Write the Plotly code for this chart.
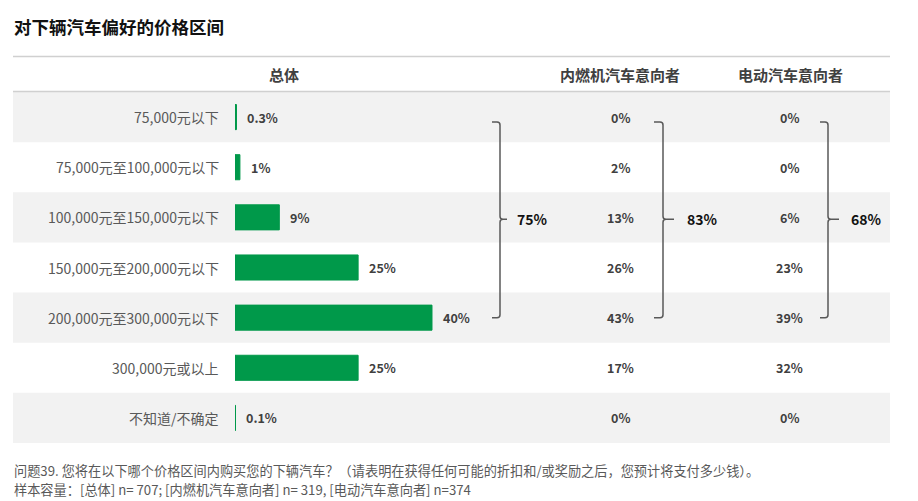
import plotly.graph_objects as go

W, H = 918, 501

categories = ["75,000元以下", "75,000元至100,000元以下", "100,000元至150,000元以下",
              "150,000元至200,000元以下", "200,000元至300,000元以下", "300,000元或以上", "不知道/不确定"]
overall = [0.3, 1, 9, 25, 40, 25, 0.1]
ice = [0, 2, 13, 26, 43, 17, 0]
ev = [0, 0, 6, 23, 39, 32, 0]
group_labels = ["总体", "内燃机汽车意向者", "电动汽车意向者"]
bracket_totals = [75, 83, 68]   # share of 100,000–300,000 range
title = "对下辆汽车偏好的价格区间"
note1 = "问题39. 您将在以下哪个价格区间内购买您的下辆汽车？（请表明在获得任何可能的折扣和/或奖励之后，您预计将支付多少钱）。"
note2 = "样本容量：[总体] n= 707; [内燃机汽车意向者] n= 319, [电动汽车意向者] n=374"

FONT = "Noto Sans CJK SC"
GREEN = "#00994A"
DARK = "#404040"
GRAY = "#595959"


def px(x):
    return x / W


def py(y):
    return 1 - y / H


rows = list(range(len(categories)))
fig = go.Figure()
fig.add_trace(go.Bar(
    y=rows, x=overall, orientation="h", width=0.5,
    marker=dict(color=GREEN, line=dict(width=1, color=GREEN)), hoverinfo="skip", showlegend=False,
))

fig.update_layout(
    width=W, height=H, autosize=False,
    margin=dict(l=0, r=0, t=0, b=0),
    paper_bgcolor="white", plot_bgcolor="rgba(0,0,0,0)",
    font=dict(family=FONT, color=DARK),
    xaxis=dict(domain=[px(235), px(890)], range=[0, 133], visible=False, fixedrange=True),
    yaxis=dict(domain=[py(443), py(92)], range=[6.5, -0.5], visible=False, fixedrange=True),
    bargap=0,
)

shapes = []
# alternating row backgrounds
for i in rows:
    if i % 2 == 0:
        shapes.append(dict(type="rect", xref="paper", yref="y", x0=px(13), x1=px(890),
                           y0=i - 0.5, y1=i + 0.5, fillcolor="#F2F2F2", line=dict(width=0), layer="below"))
# header rules
for yy in (56.5, 91.5):
    shapes.append(dict(type="line", xref="paper", yref="paper", x0=px(13), x1=px(890),
                       y0=py(yy), y1=py(yy), line=dict(color="#D0D0D0", width=1.5)))

# brackets (x positions in px: start of arms, vertical, end of middle tick)
bracket_x = [(492, 500, 507), (654, 663, 674), (820, 828, 839)]
label_x = [515, 685, 849]
top, mid, bot = 0.1, 2.04, 4.0
rx = 3 / W
ry = 3 / 50.14
for (a, v, e), lx, tot in zip(bracket_x, label_x, bracket_totals):
    a, v, e = px(a), px(v), px(e)
    path = (f"M {a},{top} L {v - rx},{top} Q {v},{top} {v},{top + ry} "
            f"L {v},{mid - ry} Q {v},{mid} {v + rx},{mid} L {e},{mid} "
            f"M {v + rx},{mid} Q {v},{mid} {v},{mid + ry} "
            f"L {v},{bot - ry} Q {v},{bot} {v - rx},{bot} L {a},{bot}")
    shapes.append(dict(type="path", xref="paper", yref="y", path=path,
                       line=dict(color=GRAY, width=1.5)))

annotations = []
annotations.append(dict(text=f"<b>{title}</b>", xref="paper", yref="paper", x=px(12), y=py(27),
                        xanchor="left", yanchor="middle", showarrow=False,
                        font=dict(size=17.5, color="#111111", family=FONT)))
for lab, cx in zip(group_labels, [284, 620, 790]):
    annotations.append(dict(text=f"<b>{lab}</b>", xref="paper", yref="paper", x=px(cx), y=py(75),
                            xanchor="center", yanchor="middle", showarrow=False,
                            font=dict(size=15, color=DARK, family=FONT)))
for i, cat in enumerate(categories):
    annotations.append(dict(text=cat, xref="paper", yref="y", x=px(221), y=i,
                            xanchor="right", yanchor="middle", showarrow=False,
                            font=dict(size=14, color=GRAY, family=FONT)))
    annotations.append(dict(text=f"<b>{overall[i]:g}%</b>", xref="x", yref="y", x=overall[i], y=i,
                            xshift=9, xanchor="left", yanchor="middle", showarrow=False,
                            font=dict(size=12.5, color=DARK, family=FONT)))
    annotations.append(dict(text=f"<b>{ice[i]:g}%</b>", xref="paper", yref="y", x=px(620), y=i,
                            xanchor="center", yanchor="middle", showarrow=False,
                            font=dict(size=12.5, color=DARK, family=FONT)))
    annotations.append(dict(text=f"<b>{ev[i]:g}%</b>", xref="paper", yref="y", x=px(789), y=i,
                            xanchor="center", yanchor="middle", showarrow=False,
                            font=dict(size=12.5, color=DARK, family=FONT)))
for lx, tot in zip(label_x, bracket_totals):
    annotations.append(dict(text=f"<b>{tot}%</b>", xref="paper", yref="y", x=px(lx), y=mid,
                            xanchor="left", yanchor="middle", showarrow=False,
                            font=dict(size=14, color="#111111", family=FONT)))
for txt, yy in ((note1, 470), (note2, 489)):
    annotations.append(dict(text=txt, xref="paper", yref="paper", x=px(12), y=py(yy),
                            xanchor="left", yanchor="middle", showarrow=False,
                            font=dict(size=13.2, color=GRAY, family=FONT)))

fig.update_layout(shapes=shapes, annotations=annotations)
fig.write_html("out.html", config={"displayModeBar": False, "staticPlot": True},
               post_script="document.body.style.margin='0';document.body.style.overflow='hidden';")
